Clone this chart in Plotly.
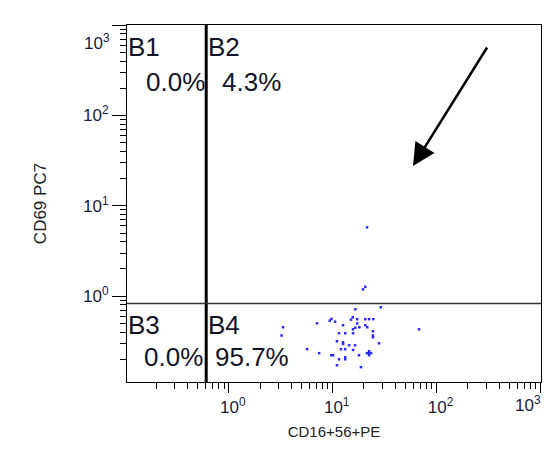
import plotly.graph_objects as go

# ---- data ----
cd16_56_pe = [21.4, 20.6, 19.6, 29.0, 16.5, 3.33, 3.22, 7.07, 9.37, 9.73,
              10.54, 12.58, 14.99, 15.6, 17.2, 16.5, 15.7, 18.0, 20.6, 22.4,
              24.6, 20.6, 21.5, 24.4, 24.4, 24.4, 27.9, 67.7, 11.5, 13.2,
              15.7, 11.0, 12.58, 12.58, 14.4, 16.4, 12.0, 13.2, 15.7, 5.67,
              7.40, 9.69, 10.1, 13.2, 13.2, 11.5, 17.9, 22.4, 21.4, 23.4,
              22.4, 22.4, 11.0, 18.7, 17.2]
cd69_pc7 = [5.78, 1.27, 1.19, 0.754, 0.716, 0.453, 0.367, 0.501, 0.536, 0.560,
            0.522, 0.477, 0.550, 0.584, 0.499, 0.448, 0.430, 0.453, 0.557, 0.557,
            0.557, 0.477, 0.453, 0.409, 0.367, 0.351, 0.301, 0.430, 0.389, 0.389,
            0.389, 0.317, 0.309, 0.296, 0.286, 0.286, 0.259, 0.259, 0.254, 0.259,
            0.234, 0.222, 0.222, 0.211, 0.200, 0.200, 0.222, 0.234, 0.234, 0.234,
            0.246, 0.222, 0.172, 0.164, 0.557]

gate_x = 0.606     # vertical quadrant divider (CD16+56 PE)
gate_y = 0.83      # horizontal quadrant divider (CD69 PC7)

quadrant_names = ["B1", "B2", "B3", "B4"]
quadrant_pcts = ["0.0%", "4.3%", "0.0%", "95.7%"]

major_vals = [1, 10, 100, 1000]
major_text = ["10<sup>0</sup>", "10<sup>1</sup>", "10<sup>2</sup>", "10<sup>3</sup>"]

x_title = "CD16+56+PE"
y_title = "CD69 PC7"

# ---- layout geometry ----
W, H = 546, 464
ML, MR, MT, MB = 127, 5, 25, 82
PW, PH = W - ML - MR, H - MT - MB


def px(xp):
    return (xp - ML) / PW


def py(yp):
    return (H - MB - yp) / PH


minor_vals = [k * 10 ** e for e in range(-1, 3) for k in range(2, 10)]
FAM = "Arial, Liberation Sans, sans-serif"
font_tick = dict(family=FAM, size=17, color="#1a1a40")
font_quad = dict(family=FAM, size=26, color="#141428")

fig = go.Figure()

fig.add_trace(go.Scatter(
    x=cd16_56_pe, y=cd69_pc7, mode="markers",
    marker=dict(symbol="square", size=2.5, color="#2a2aff", line=dict(width=0)),
    showlegend=False, hoverinfo="skip"))

# quadrant gate lines
fig.add_trace(go.Scatter(x=[gate_x, gate_x], y=[0.01, 10000], mode="lines",
                         line=dict(color="black", width=3), showlegend=False, hoverinfo="skip"))
fig.add_trace(go.Scatter(x=[0.01, 10000], y=[gate_y, gate_y], mode="lines",
                         line=dict(color="#333333", width=1.5), showlegend=False, hoverinfo="skip"))

axis_common = dict(
    type="log", showgrid=False, zeroline=False,
    showline=True, mirror=True, linecolor="black", linewidth=1,
    ticks="outside", tickcolor="black", tickwidth=1,
    tickmode="array", tickvals=major_vals,
    ticktext=major_text[:3] + [""],
    tickfont=font_tick,
    minor=dict(tickmode="array", tickvals=minor_vals, ticks="outside",
               ticklen=6, tickcolor="black", tickwidth=1, showgrid=False),
)

fig.update_layout(
    width=W, height=H,
    margin=dict(l=ML, r=MR, t=MT, b=MB, autoexpand=False),
    paper_bgcolor="white", plot_bgcolor="white",
    xaxis=dict(axis_common, range=[-0.98, 3.005], ticklen=10, ticklabelshift=4,
               title=dict(text=x_title, standoff=10,
                          font=dict(family=FAM, size=15, color="#222222"))),
    yaxis=dict(axis_common, range=[-0.95, 3.002], ticklen=14,
               title=dict(text=y_title, standoff=32,
                          font=dict(family=FAM, size=17, color="#222222"))),
)

ann = []
# quadrant names and percentages
ann.append(dict(x=px(126), y=py(46.5), text=quadrant_names[0], xanchor="left"))
ann.append(dict(x=px(206), y=py(46.5), text=quadrant_names[1], xanchor="left"))
ann.append(dict(x=px(207), y=py(81.5), text=quadrant_pcts[0], xanchor="right"))
ann.append(dict(x=px(220), y=py(81.5), text=quadrant_pcts[1], xanchor="left"))
ann.append(dict(x=px(126), y=py(325), text=quadrant_names[2], xanchor="left"))
ann.append(dict(x=px(206), y=py(325), text=quadrant_names[3], xanchor="left"))
ann.append(dict(x=px(205), y=py(357), text=quadrant_pcts[2], xanchor="right"))
ann.append(dict(x=px(213), y=py(357), text=quadrant_pcts[3], xanchor="left"))
for a in ann:
    a.update(xref="paper", yref="paper", yanchor="middle", showarrow=False, font=font_quad)

# edge tick labels (shifted inward like the original)
ann.append(dict(x=px(112), y=py(42), xref="paper", yref="paper", text=major_text[3],
                xanchor="right", yanchor="middle", showarrow=False, font=font_tick))
ann.append(dict(x=px(543), y=py(404), xref="paper", yref="paper", text=major_text[3],
                xanchor="right", yanchor="middle", showarrow=False, font=font_tick))

# arrow
ann.append(dict(x=px(413), y=py(166), xref="paper", yref="paper", ax=75, ay=-120,
                axref="pixel", ayref="pixel", text="", showarrow=True,
                arrowhead=2, arrowsize=1.8, arrowwidth=2.5, arrowcolor="black"))

fig.update_layout(annotations=ann)

fig.write_html("out.html", config={"displayModeBar": False},
               post_script="document.body.style.margin='0';")
